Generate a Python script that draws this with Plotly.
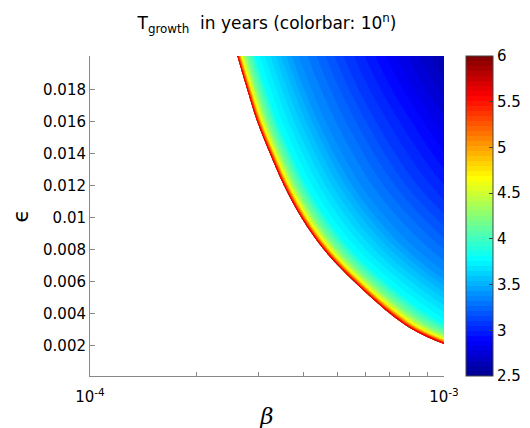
import numpy as np
import plotly.graph_objects as go

# colour-bar quantity: log10(T_growth / years)
levels = [2.5, 2.6, 2.8, 3.1, 3.4, 3.8, 4.2, 4.6, 5.0, 5.45, 5.75]
# epsilon rows at which the picture was read
eps_rows = [0.0021, 0.003, 0.004, 0.006, 0.008, 0.010, 0.012, 0.014, 0.016, 0.018, 0.0201]
# beta (in units of 1e-4) at which each level is reached along each epsilon row
beta_at_level_e4 = [
    [956.6, 494.2, 222.3, 74.40, 29.33, 14.14, 11.89, 10.88, 10.49, 10.18, 10.00],
    [354.1, 205.7, 105.8, 42.77, 19.86, 10.86, 9.408, 8.737, 8.477, 8.275, 8.151],
    [176.2, 111.1, 62.98, 29.05, 15.05, 8.985, 7.946, 7.460, 7.270, 7.121, 7.030],
    [83.32, 56.45, 35.06, 18.32, 10.55, 6.843, 6.173, 5.854, 5.729, 5.631, 5.570],
    [49.97, 35.41, 23.25, 13.10, 8.044, 5.487, 5.010, 4.781, 4.690, 4.619, 4.575],
    [34.62, 25.33, 17.29, 10.27, 6.594, 4.659, 4.291, 4.112, 4.041, 3.985, 3.951],
    [25.62, 19.25, 13.59, 8.443, 5.634, 4.103, 3.806, 3.661, 3.603, 3.558, 3.530],
    [20.62, 15.78, 11.38, 7.292, 4.993, 3.710, 3.459, 3.335, 3.286, 3.247, 3.223],
    [17.26, 13.40, 9.826, 6.438, 4.495, 3.391, 3.171, 3.064, 3.021, 2.987, 2.966],
    [14.49, 11.43, 8.545, 5.749, 4.106, 3.152, 2.960, 2.866, 2.828, 2.798, 2.780],
    [12.57, 10.02, 7.597, 5.208, 3.778, 2.938, 2.768, 2.684, 2.650, 2.623, 2.607],
]
x_ticks = [1e-4, 1e-3]
x_ticktext = ["10<sup>-4</sup>", "10<sup>-3</sup>"]
x_minor = [2e-4, 3e-4, 4e-4, 5e-4, 6e-4, 7e-4, 8e-4, 9e-4]
y_ticks = [0.002, 0.004, 0.006, 0.008, 0.010, 0.012, 0.014, 0.016, 0.018]
y_ticktext = ["0.002", "0.004", "0.006", "0.008", "0.01", "0.012", "0.014", "0.016", "0.018"]
cbar_ticks = [2.5, 3, 3.5, 4, 4.5, 5, 5.5, 6]

jet = [
    [0.0, "rgb(0,0,143)"],
    [0.111, "rgb(0,0,255)"],
    [0.365, "rgb(0,255,255)"],
    [0.619, "rgb(255,255,0)"],
    [0.873, "rgb(255,0,0)"],
    [1.0, "rgb(128,0,0)"],
]

FONT = "DejaVu Sans, Liberation Sans, Arial"

x2d = np.log10(np.array(beta_at_level_e4) * 1e-4)
y2d = np.repeat(np.array(eps_rows)[:, None], len(levels), axis=1)
z2d = np.tile(np.array(levels), (len(eps_rows), 1))

hidden_axis = dict(showgrid=False, showline=False, showticklabels="none",
                   startline=False, endline=False, minorgridcount=0)

fig = go.Figure()
fig.add_trace(go.Carpet(
    a=levels, b=eps_rows, x=x2d, y=y2d, carpet="c1",
    aaxis=dict(hidden_axis, smoothing=0),
    baxis=dict(hidden_axis, smoothing=1),
))
fig.add_trace(go.Contourcarpet(
    a=levels, b=eps_rows, z=z2d, carpet="c1",
    autocontour=False,
    contours=dict(start=2.5, end=6.0, size=3.5 / 64, coloring="fill", showlines=False),
    line=dict(width=0),
    colorscale=jet, zmin=2.5, zmax=6.0,
    colorbar=dict(
        x=(470 - 81) / 366, xanchor="left", xpad=0,
        y=0.5, yanchor="middle", len=1.0, ypad=0,
        thickness=27, outlinewidth=1, outlinecolor="#444",
        tickvals=cbar_ticks, ticktext=[f"{v:g}" for v in cbar_ticks],
        ticks="inside", ticklen=4, tickcolor="#444",
        tickfont=dict(size=15, color="black", family=FONT),
    ),
))

fig.update_layout(
    width=530, height=428,
    margin=dict(l=81, r=83, t=48, b=48),
    paper_bgcolor="white", plot_bgcolor="white",
    font=dict(family=FONT, size=15, color="black"),
    showlegend=False,
    title=dict(
        text="T<sub>growth</sub>  in years (colorbar: 10<sup>n</sup>)",
        x=0.5, xref="paper", xanchor="center",
        y=1 - 15 / 428, yref="container", yanchor="middle",
        font=dict(size=17, color="black", family=FONT),
    ),
    xaxis=dict(
        range=[-4, -3], tickvals=np.log10(x_ticks), ticktext=x_ticktext,
        ticks="inside", ticklen=5, tickcolor="#888",
        showline=True, linecolor="#888", linewidth=1, mirror=False,
        showgrid=False, zeroline=False,
        minor=dict(tickvals=np.log10(x_minor), ticks="inside", ticklen=4, tickcolor="#888"),
        tickfont=dict(size=15),
        ticklabelstandoff=7,
        title=dict(text="β", font=dict(size=23, style="italic", family="DejaVu Serif"), standoff=2),
    ),
    yaxis=dict(
        range=[0.0001, 0.0201], tickvals=y_ticks, ticktext=y_ticktext,
        ticks="inside", ticklen=5, tickcolor="#888",
        showline=True, linecolor="#888", linewidth=1, mirror=False,
        showgrid=False, zeroline=False,
        tickfont=dict(size=15),
        title=dict(text="ϵ", font=dict(size=22), standoff=8),
    ),
)

fig.write_html("out.html")
